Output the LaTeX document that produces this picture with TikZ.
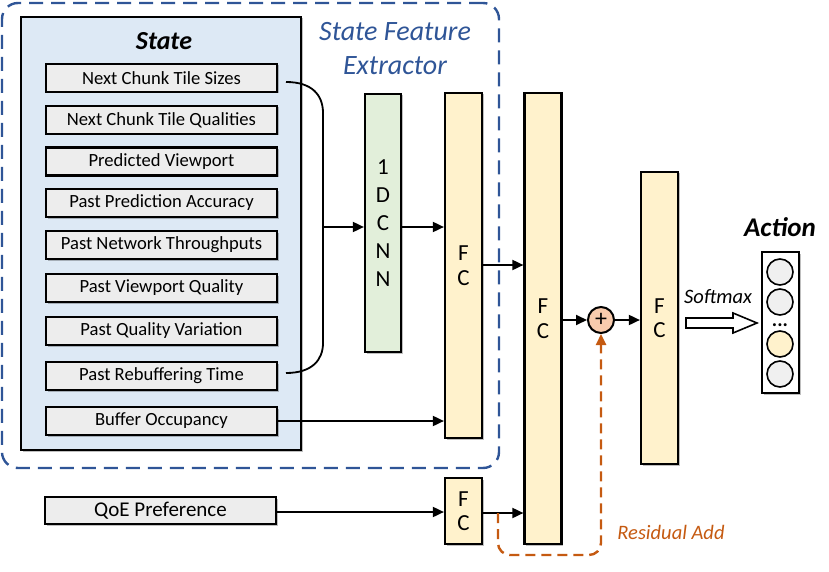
\documentclass[tikz,border=0pt]{standalone}
\usepackage{fontspec}
\setmainfont{Carlito}
\usetikzlibrary{arrows.meta,shadows}
\definecolor{sfeblue}{RGB}{47,85,151}
\definecolor{statefill}{RGB}{221,233,245}
\definecolor{itemfill}{RGB}{237,237,237}
\definecolor{cnnfill}{RGB}{226,239,218}
\definecolor{fcfill}{RGB}{255,242,204}
\definecolor{plusfill}{RGB}{248,203,173}
\definecolor{resorange}{RGB}{197,90,17}
\definecolor{circgray}{RGB}{240,240,240}
\tikzset{
  shd/.style={drop shadow={opacity=0.25,shadow xshift=1.5pt,shadow yshift=-1.5pt,fill=black}},
  itembox/.style={draw,fill=itemfill,line width=2.2pt,minimum width=231pt,minimum height=28pt,inner sep=0pt,font=\fontsize{18.6}{20}\selectfont,shd},
  layer/.style={draw,line width=2.2pt,inner sep=0pt,align=center,shd},
  fcbox/.style={layer,fill=fcfill,minimum width=37pt,font=\fontsize{23}{24.5}\selectfont},
  arr/.style={line width=1.8pt,-{Triangle[length=11pt,width=10pt]}},
  actcirc/.style={draw,circle,line width=1.6pt,minimum size=26pt,inner sep=0pt},
}
\begin{document}
\begin{tikzpicture}[x=1pt,y=-1pt]
\useasboundingbox (0,0) rectangle (829,572);
% outer dashed extractor box
\node[draw=sfeblue,line width=2.4pt,dash pattern=on 14pt off 8pt,rounded corners=16pt,minimum width=497pt,minimum height=465pt,inner sep=0pt] (sfe) at (250.5,235.5) {};
\node[text=sfeblue,align=center,font=\fontsize{28}{34}\itshape] (sfelabel) at (395,49) {State Feature\\Extractor};
% state box
\node[draw,fill=statefill,line width=2pt,minimum width=280pt,minimum height=433pt,inner sep=0pt,shd] (state) at (161,233.5) {};
\node[font=\fontsize{26}{30}\bfseries\itshape] (statelabel) at (164,41) {State};
% items
\node[itembox] (i1) at (161.5,78) {Next Chunk Tile Sizes};
\node[itembox] (i2) at (161.5,120) {Next Chunk Tile Qualities};
\node[itembox] (i3) at (161.5,161.5) {Predicted Viewport};
\node[itembox] (i4) at (161.5,203) {Past Prediction Accuracy};
\node[itembox] (i5) at (161.5,245) {Past Network Throughputs};
\node[itembox] (i6) at (161.5,288) {Past Viewport Quality};
\node[itembox] (i7) at (161.5,331) {Past Quality Variation};
\node[itembox] (i8) at (161.5,376) {Past Rebuffering Time};
\node[itembox] (i9) at (161.5,421) {Buffer Occupancy};
\node[itembox,minimum width=231pt,minimum height=27pt,font=\fontsize{21}{22}\selectfont] (qoe) at (160.5,510.5) {QoE Preference};
% layers
\node[layer,fill=cnnfill,minimum width=36pt,minimum height=258pt,font=\fontsize{23}{28}\selectfont] (cnn) at (383,223) {1\\D\\C\\N\\N};
\node[fcbox,minimum height=345pt] (fc1) at (463.5,265.5) {F\\C};
\node[fcbox,minimum height=451pt] (fc2) at (543,318.5) {F\\C};
\node[fcbox,minimum height=292pt] (fc3) at (659.5,318) {F\\C};
\node[fcbox,minimum height=66pt] (fcq) at (463.5,511) {F\\C};
\node[draw,circle,fill=plusfill,line width=2pt,minimum size=26pt,inner sep=0pt,font=\fontsize{24}{24}\selectfont] (plus) at (601,320) {+};
% action
\node[draw,fill=white,line width=2pt,minimum width=37pt,minimum height=141pt,inner sep=0pt,shd] (act) at (780.5,322.5) {};
\node[font=\fontsize{27}{30}\bfseries\itshape] (actlabel) at (780,227) {Action};
\node[actcirc,fill=circgray] (a1) at (780,272) {};
\node[actcirc,fill=circgray] (a2) at (780,302) {};
\node[font=\fontsize{20}{20}\bfseries] (dots) at (780,325) {...};
\node[actcirc,fill=fcfill] (a3) at (780,344) {};
\node[actcirc,fill=circgray] (a4) at (780,374) {};
% bracket
\coordinate (b1) at (286,82);
\coordinate (b2) at (323,113);
\coordinate (b3) at (323,343);
\coordinate (b4) at (286,373);
\coordinate (bm) at (323,227);
\draw[line width=1.8pt] (b1) .. controls (312,82) and (323,95) .. (b2) -- (b3) .. controls (323,360) and (312,373) .. (b4);
\draw[arr] (bm) -- (cnn.west |- bm);
% connectors
\draw[arr] (cnn.east |- bm) -- (fc1.west |- bm);
\draw[arr] (i9.east) -- (fc1.west |- i9.east);
\coordinate (f12) at (482,265);
\draw[arr] (f12) -- (fc2.west |- f12);
\draw[arr] (fc2.east |- plus.west) -- (plus.west);
\draw[arr] (plus.east) -- (fc3.west |- plus.east);
\coordinate (qy) at (276,512);
\draw[arr] (qoe.east |- qy) -- (fcq.west |- qy);
\coordinate (q2) at (482,513);
\draw[arr] (q2) -- (fc2.west |- q2);
% residual
\coordinate (r0) at (498,513);
\coordinate (r1) at (498,555);
\coordinate (r2) at (601,555);
\draw[resorange,line width=2.4pt,dash pattern=on 10pt off 6pt,rounded corners=12pt,-{Triangle[length=11pt,width=10pt]}] (r0) -- (r1) -- (r2) -- (plus.south);
\node[text=resorange,font=\fontsize{20.5}{24}\itshape] (reslabel) at (671,532) {Residual Add};
% softmax
\draw[line width=1.6pt,fill=white] (686,318) -- (733,318) -- (733,313) -- (757,323) -- (733,333) -- (733,328) -- (686,328) -- cycle;
\node[font=\fontsize{20.5}{24}\itshape] (smlabel) at (718,297) {Softmax};
\end{tikzpicture}
\end{document}
